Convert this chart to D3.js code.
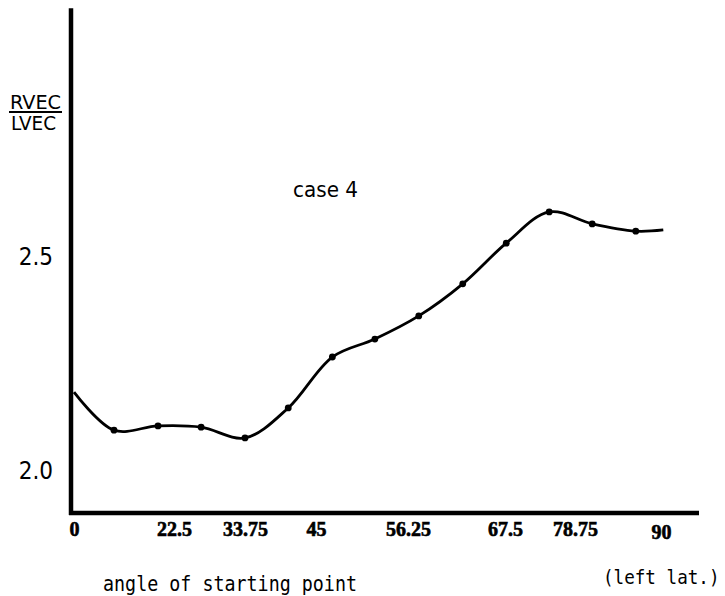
<!DOCTYPE html>
<html>
<head>
<meta charset="utf-8">
<script src="https://cdn.jsdelivr.net/npm/d3@7/dist/d3.min.js"></script>
<style>
  html, body { margin: 0; padding: 0; background: #fff; }
  svg { display: block; }
</style>
</head>
<body>
<div id="chart"></div>
<script>
// ---- data ----
const xTickValues = [0, 22.5, 33.75, 45, 56.25, 67.5, 78.75, 90];
const xTickLabels = ["0", "22.5", "33.75", "45", "56.25", "67.5", "78.75", "90"];
const yTickValues = [2.0, 2.5];
const yTickLabels = ["2.0", "2.5"];
// angle of starting point (degrees, read against the hand-placed tick labels)
const angles = [0, 9.0, 18.9, 26.8, 33.75, 40.6, 47.0, 52.2, 57.5, 62.6, 67.7, 74.6, 81.0, 86.7];
const ratio  = [2.182, 2.093, 2.103, 2.100, 2.075, 2.145, 2.264, 2.306, 2.360, 2.435, 2.530, 2.603, 2.575, 2.558];
// curve continues a little past the last marked point
const tailAngle = 90.3;
const tailRatio = 2.561;

const W = 725, H = 596;
const svg = d3.select("#chart").append("svg").attr("width", W).attr("height", H);

// hand-lettered axis: tick labels are not evenly spaced, so a piecewise scale
const x = d3.scaleLinear()
  .domain(xTickValues)
  .range([74, 174, 245, 316, 408, 505, 575, 661]);
const y = d3.scaleLinear().domain([2.0, 2.5]).range([470, 256]);

const axisX0 = 71, axisY0 = 513;

// axes lines
svg.append("line")
  .attr("x1", axisX0).attr("x2", axisX0)
  .attr("y1", y(3.079)).attr("y2", axisY0 + 2)
  .attr("stroke", "#000").attr("stroke-width", 4.5);
svg.append("line")
  .attr("x1", axisX0 - 2).attr("x2", 699)
  .attr("y1", axisY0).attr("y2", axisY0)
  .attr("stroke", "#000").attr("stroke-width", 4.5);

// x tick labels via axis generator
const xAxis = d3.axisBottom(x)
  .tickValues(xTickValues)
  .tickFormat((d, i) => xTickLabels[i])
  .tickSize(0);
const gx = svg.append("g").attr("transform", `translate(0,${axisY0})`).call(xAxis);
gx.select(".domain").remove();
gx.selectAll("text")
  .attr("y", 0)
  .attr("dy", (d) => d === 90 ? "26px" : "23px")
  .attr("font-family", "'Liberation Serif', serif")
  .attr("font-weight", "bold")
  .attr("font-size", 20)
  .attr("stroke", "#000")
  .attr("stroke-width", 0.6)
  .attr("fill", "#000");

// y tick labels via axis generator
const yAxis = d3.axisLeft(y)
  .tickValues(yTickValues)
  .tickFormat((d, i) => yTickLabels[i])
  .tickSize(0);
const gy = svg.append("g").attr("transform", `translate(${53},0)`).call(yAxis);
gy.select(".domain").remove();
gy.selectAll("text")
  .attr("x", 0)
  .attr("dy", "0.36em")
  .attr("font-family", "'DejaVu Sans Condensed', 'DejaVu Sans', sans-serif")
  .attr("font-size", 24)
  .attr("fill", "#000");

// y axis title as a fraction
const fracG = svg.append("g").attr("font-family", "'DejaVu Sans Condensed', 'DejaVu Sans', sans-serif")
  .attr("font-size", 19).attr("fill", "#000");
fracG.append("text").attr("x", 10).attr("y", 109).attr("textLength", 51).attr("lengthAdjust", "spacingAndGlyphs").text("RVEC");
fracG.append("line").attr("x1", 9).attr("x2", 62).attr("y1", 112).attr("y2", 112)
  .attr("stroke", "#000").attr("stroke-width", 2.2);
fracG.append("text").attr("x", 11).attr("y", 130).attr("textLength", 45).attr("lengthAdjust", "spacingAndGlyphs").text("LVEC");

// case label
svg.append("text")
  .attr("x", 293).attr("y", 197)
  .attr("font-family", "'DejaVu Sans Condensed', 'DejaVu Sans', sans-serif")
  .attr("font-size", 22)
  .attr("textLength", 65).attr("lengthAdjust", "spacingAndGlyphs")
  .attr("fill", "#000")
  .text("case 4");

// x axis titles (typewriter style)
svg.append("text")
  .attr("x", 103).attr("y", 591)
  .attr("font-family", "'DejaVu Sans Mono', 'Liberation Mono', monospace")
  .attr("font-size", 21)
  .attr("textLength", 254).attr("lengthAdjust", "spacingAndGlyphs")
  .attr("fill", "#000")
  .text("angle of starting point");
svg.append("text")
  .attr("transform", "translate(603,584) scale(0.88,1)")
  .attr("font-family", "'DejaVu Sans Mono', 'Liberation Mono', monospace")
  .attr("font-size", 20)
  .attr("fill", "#000")
  .text("(left lat.)");

// curve
const pts = angles.map((a, i) => [a, ratio[i]]);
const curvePts = pts.concat([[tailAngle, tailRatio]]);
const line = d3.line()
  .x(d => x(d[0]))
  .y(d => y(d[1]))
  .curve(d3.curveCatmullRom.alpha(0.5));
svg.append("path")
  .attr("d", line(curvePts))
  .attr("fill", "none")
  .attr("stroke", "#000")
  .attr("stroke-width", 2.8)
  .attr("stroke-linejoin", "round");

// markers (first point sits on the axis)
svg.selectAll("circle.pt")
  .data(pts.slice(1))
  .enter().append("circle")
  .attr("class", "pt")
  .attr("cx", d => x(d[0]))
  .attr("cy", d => y(d[1]))
  .attr("r", 3.4)
  .attr("fill", "#000");
</script>
</body>
</html>
